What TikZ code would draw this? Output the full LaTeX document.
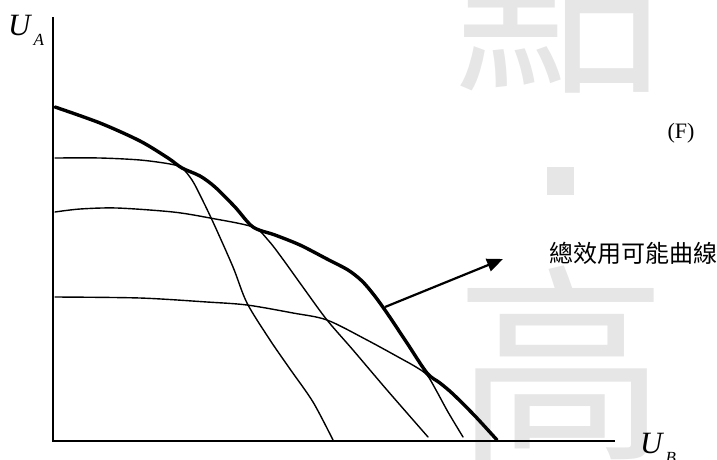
\documentclass[tikz,border=0pt]{standalone}
\usepackage{fontspec}
\setmainfont{Liberation Serif}
\newfontfamily\cjk{Noto Sans CJK TC}
\usetikzlibrary{arrows.meta}
\definecolor{wm}{HTML}{E6E6E6}
\tikzset{
  thin curve/.style={line width=1.4pt, line join=round, line cap=round},
  thick curve/.style={line width=3.4pt, line join=round, line cap=round},
  axis/.style={line width=1.8pt},
  mark text/.style={inner sep=0pt, text=wm},
  lbl/.style={inner sep=0pt},
}
\begin{document}
\begin{tikzpicture}[x=1pt,y=-1pt]
\useasboundingbox (0,0) rectangle (717,459);
% watermark
\begin{scope}
\clip (0,0) rectangle (717,459);
\node[mark text, anchor=base] (wmtop) at (559,76) {\fontsize{212}{212}\selectfont\cjk 點};
\node[mark text, anchor=base] (wmbot) at (561,444) {\fontsize{212}{212}\selectfont\cjk 高};
\fill[wm] (547,167) rectangle (574,195);
\end{scope}
% axes
\coordinate (ytop) at (53,17);
\coordinate (O) at (53,441);
\coordinate (xend) at (615,441);
\draw[axis] (ytop) -- (O) -- (xend);
% thin curves
\draw[thin curve] plot[smooth, tension=0.5] coordinates {(55,158) (100,158) (140,160) (170,164) (182,168) (192,180) (200,195) (213,222) (233,267) (247,303) (270,340) (290,369) (313,402) (333,440)};
\draw[thin curve] plot[smooth, tension=0.5] coordinates {(55,212) (80,209) (117,208) (173,212) (210,218) (253,227) (268,240) (282,258) (305,290) (327,320) (353,350) (387,390) (428,437)};
\draw[thin curve] plot[smooth, tension=0.5] coordinates {(55,297) (140,298) (207,302) (247,305) (293,313) (327,320) (367,340) (400,358) (416,367) (427,375) (436,390) (448,412) (463,437)};
% thick envelope
\draw[thick curve] plot[smooth, tension=0.5] coordinates {(55,107) (100,123) (140,141) (168,158) (182,168) (200,176) (215,187) (235,207) (253,227) (275,235) (300,245) (327,259) (348,270) (362,281) (374,295) (387,313) (407,343) (427,373) (440,383) (453,394) (475,416) (497,440)};
% arrow
\coordinate (aS) at (385,307);
\coordinate (aE) at (503,259);
\draw[line width=2.2pt, -{Triangle[length=16pt,width=13pt]}] (aS) -- (aE);
% labels
\node[lbl, anchor=base west] (ua) at (8,35) {\fontsize{31}{31}\selectfont\itshape U\hspace{3pt}\raisebox{-10pt}{\fontsize{17}{17}\selectfont A}};
\node[lbl, anchor=base west] (ub) at (640,453) {\fontsize{31}{31}\selectfont\itshape U\hspace{3pt}\raisebox{-10pt}{\fontsize{17}{17}\selectfont B}};
\node[lbl, anchor=base] (F) at (681,138.5) {\fontsize{22}{22}\selectfont (F)};
\node[lbl, anchor=west] (cl) at (549,253) {\fontsize{24}{24}\selectfont\cjk 總效用可能曲線};
\end{tikzpicture}
\end{document}
